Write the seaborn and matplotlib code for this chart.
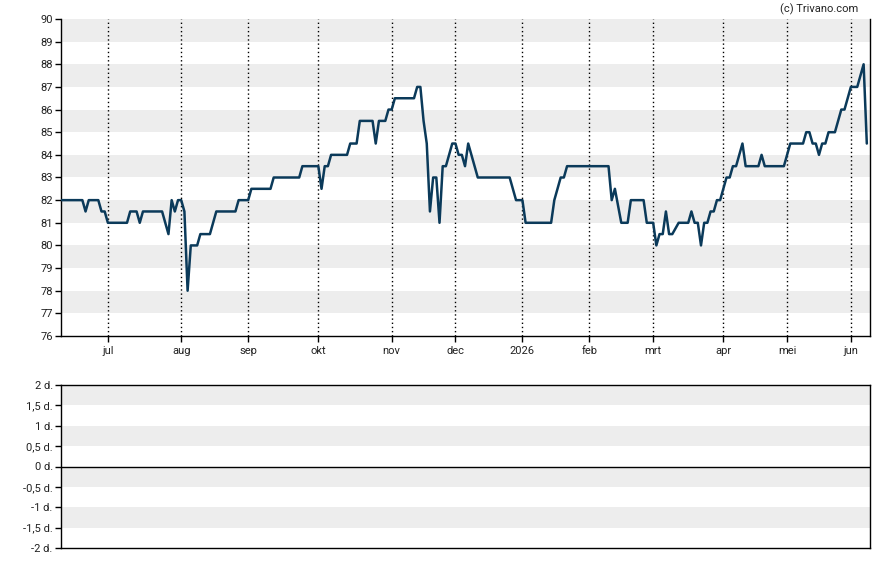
import numpy as np
import pandas as pd
import matplotlib
matplotlib.use('Agg')
import matplotlib.pyplot as plt
import seaborn as sns

# price vertices (date, close)
dates = ['2025-06-10', '2025-06-19', '2025-06-20', '2025-06-23', '2025-06-26', '2025-06-27',
         '2025-06-30', '2025-07-01', '2025-07-09', '2025-07-10', '2025-07-14', '2025-07-15',
         '2025-07-16', '2025-07-24', '2025-07-28', '2025-07-29', '2025-07-30', '2025-07-31',
         '2025-08-01', '2025-08-04', '2025-08-05', '2025-08-06', '2025-08-08', '2025-08-11',
         '2025-08-14', '2025-08-18', '2025-08-26', '2025-08-27', '2025-09-01', '2025-09-02',
         '2025-09-10', '2025-09-11', '2025-09-23', '2025-09-24', '2025-10-01', '2025-10-02',
         '2025-10-03', '2025-10-06', '2025-10-07', '2025-10-14', '2025-10-15', '2025-10-17',
         '2025-10-20', '2025-10-24', '2025-10-27', '2025-10-28', '2025-10-30', '2025-10-31',
         '2025-11-03', '2025-11-04', '2025-11-12', '2025-11-13', '2025-11-14', '2025-11-17',
         '2025-11-18', '2025-11-19', '2025-11-20', '2025-11-21', '2025-11-24', '2025-11-25',
         '2025-11-26', '2025-11-28', '2025-12-01', '2025-12-02', '2025-12-03', '2025-12-04',
         '2025-12-05', '2025-12-10', '2025-12-24', '2025-12-30', '2026-01-02', '2026-01-05',
         '2026-01-15', '2026-01-16', '2026-01-20', '2026-01-21', '2026-01-22', '2026-02-10',
         '2026-02-11', '2026-02-12', '2026-02-16', '2026-02-18', '2026-02-19', '2026-02-25',
         '2026-02-26', '2026-03-02', '2026-03-03', '2026-03-04', '2026-03-05', '2026-03-06',
         '2026-03-09', '2026-03-10', '2026-03-12', '2026-03-17', '2026-03-18', '2026-03-19',
         '2026-03-20', '2026-03-23', '2026-03-24', '2026-03-25', '2026-03-26', '2026-03-27',
         '2026-03-30', '2026-03-31', '2026-04-02', '2026-04-07', '2026-04-08', '2026-04-09',
         '2026-04-13', '2026-04-14', '2026-04-20', '2026-04-21', '2026-04-22', '2026-04-30',
         '2026-05-05', '2026-05-11', '2026-05-12', '2026-05-13', '2026-05-14', '2026-05-15',
         '2026-05-18', '2026-05-19', '2026-05-20', '2026-05-21', '2026-05-25', '2026-05-27',
         '2026-05-28', '2026-06-01', '2026-06-03', '2026-06-05', '2026-06-08']
prices = [82, 82, 81.5, 82, 82, 81.5,
          81.5, 81, 81, 81.5, 81.5, 81,
          81.5, 81.5, 80.5, 82, 81.5, 82,
          82, 81.5, 78, 80, 80, 80.5,
          80.5, 81.5, 81.5, 82, 82, 82.5,
          82.5, 83, 83, 83.5, 83.5, 82.5,
          83.5, 83.5, 84, 84, 84.5, 84.5,
          85.5, 85.5, 84.5, 85.5, 85.5, 86,
          86, 86.5, 86.5, 87, 87, 85.5,
          84.5, 81.5, 83, 83, 81, 83.5,
          83.5, 84.5, 84.5, 84, 84, 83.5,
          84.5, 83, 83, 82, 82, 81,
          81, 82, 83, 83, 83.5, 83.5,
          82, 82.5, 81, 81, 82, 82,
          81, 81, 80, 80.5, 80.5, 81.5,
          80.5, 80.5, 81, 81, 81.5, 81,
          81, 80, 81, 81, 81.5, 81.5,
          82, 82, 83, 83, 83.5, 83.5,
          84.5, 83.5, 83.5, 84, 83.5, 83.5,
          84.5, 84.5, 85, 85, 84.5, 84.5,
          84, 84.5, 84.5, 85, 85, 86,
          86, 87, 87, 88, 84.5]

month_labels = ['jul', 'aug', 'sep', 'okt', 'nov', 'dec', '2026', 'feb', 'mrt', 'apr', 'mei', 'jun']
holidays = ['2025-12-25', '2025-12-26', '2026-01-01', '2026-04-03', '2026-04-06', '2026-05-01']

lower_ticks = [2, 1.5, 1, 0.5, 0, -0.5, -1, -1.5, -2]

# trading day calendar -> x is trading day number
days = pd.bdate_range('2025-06-10', '2026-06-08')
days = days[~days.isin(pd.to_datetime(holidays))]
pos = pd.Series(np.arange(len(days)), index=days)

df = pd.DataFrame({'date': pd.to_datetime(dates), 'price': prices})
df['x'] = pos.loc[df['date']].values

month_first = days.to_series().groupby(days.to_period('M')).first()
tick_pos = [pos[d] for d in month_first.values[1:]]

sns.set_style('white')
plt.rcParams['font.family'] = ['Roboto', 'DejaVu Sans']

fig = plt.figure(figsize=(8.88, 5.65), dpi=100)
ax = fig.add_axes([61/888, 1-336/565, (870-61)/888, (336-19)/565])
ax2 = fig.add_axes([61/888, 1-548/565, (870-61)/888, (548-385)/565])

band = '#ededed'
for lo in range(77, 90, 2):
    ax.axhspan(lo, lo+1, color=band, lw=0, zorder=0)
for x in tick_pos:
    ax.axvline(x, color='black', ls=(0, (1, 2)), lw=1, zorder=1)

sns.lineplot(data=df, x='x', y='price', ax=ax, color='#0b3a5a', lw=1.8, zorder=3)

ax.set_xlim(0.3, 254)
ax.set_ylim(76, 90)
ax.set_yticks(range(76, 91))
ax.set_xticks(tick_pos)
ax.set_xticklabels(month_labels)
ax.set_xlabel('')
ax.set_ylabel('')
for s in ['left', 'bottom', 'right']:
    ax.spines[s].set_color('black')
    ax.spines[s].set_linewidth(1)
ax.spines['top'].set_visible(False)
ax.tick_params(axis='both', length=4, width=1, color='black', labelsize=8, labelcolor='#222222', pad=2, bottom=True, left=True)
ax.tick_params(axis='x', pad=3)

# lower panel
for lo in [1.5, 0.5, -0.5, -1.5]:
    ax2.axhspan(lo, lo+0.5, color=band, lw=0, zorder=0)
ax2.axhline(0, color='black', lw=1)
ax2.set_xlim(0.3, 254)
ax2.set_ylim(-2, 2)
ax2.set_xticks([])
ax2.set_yticks(lower_ticks)
ax2.set_yticklabels([(f'{t:g}'.replace('.', ',')) + ' d.' for t in lower_ticks])
for s in ax2.spines.values():
    s.set_color('black')
    s.set_linewidth(1)
ax2.tick_params(axis='y', length=4, width=1, color='black', labelsize=8, labelcolor='#222222', pad=2, left=True)

fig.text(858/888, 1-9/565, '(c) Trivano.com', ha='right', va='center', fontsize=8, color='#222222')

fig.savefig('out.png', dpi=100)
